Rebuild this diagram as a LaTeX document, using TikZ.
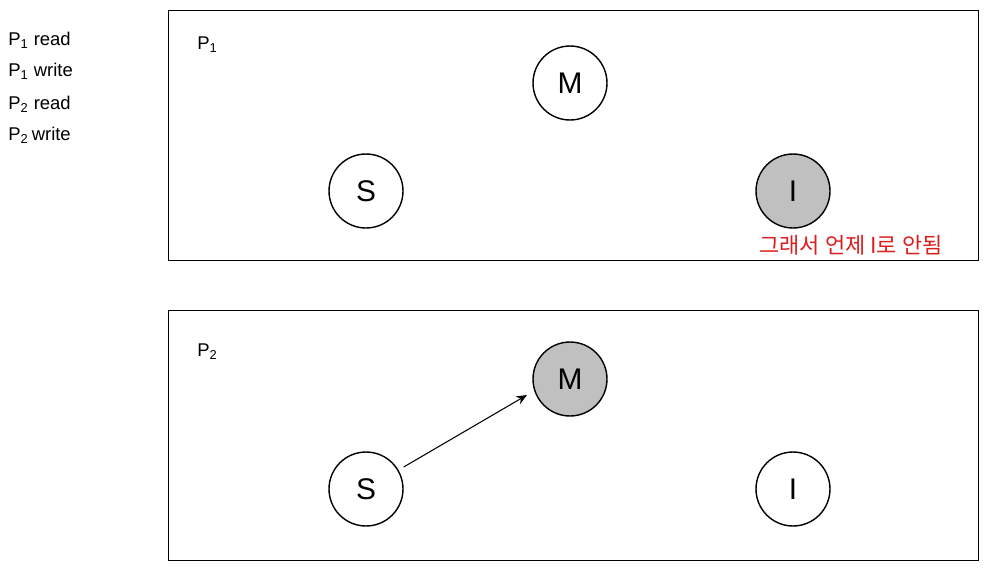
\documentclass[tikz,border=0pt]{standalone}
\usepackage{fontspec}
\setmainfont{Liberation Sans}
\newfontfamily\krfont{Noto Sans CJK KR}
\usetikzlibrary{arrows.meta}
\definecolor{stategray}{RGB}{192,192,192}
\definecolor{penred}{RGB}{220,30,30}
\begin{document}
\begin{tikzpicture}[x=0.02cm, y=-0.02cm,
    state/.style={draw, circle, thick, fill=white, minimum size=1.48cm, inner sep=0pt, font=\fontsize{17}{20}\selectfont},
    proc/.style={draw, thick, minimum width=16.2cm, minimum height=5cm, anchor=north west},
    side/.style={anchor=west, inner sep=0pt, font=\fontsize{10.5}{12}\selectfont}]
    \useasboundingbox (0,0) rectangle (1002,569);
    % Boxes
    \node (box1) [proc] at (168,10) {};
    \node (box2) [proc] at (168,310) {};
    \node (lab1) [side] at (197,45) {P\textsubscript{1}};
    \node (lab2) [side] at (197,352) {P\textsubscript{2}};
    % Operations
    \node (op1) [side] at (8,40) {P\textsubscript{1} read};
    \node (op2) [side] at (8,71) {P\textsubscript{1} write};
    \node (op3) [side] at (8,104) {P\textsubscript{2} read};
    \node (op4) [side] at (8,135) {P\textsubscript{2}\,write};
    % States of P1
    \node (m1) [state] at (570,83) {M};
    \node (s1) [state] at (366,191) {S};
    \node (i1) [state, fill=stategray] at (793,191) {I};
    \node (note) [text=penred, inner sep=0pt, font=\krfont\fontsize{12.5}{14}\selectfont] at (851,245) {그래서 언제 I로 안됨};
    % States of P2
    \node (m2) [state, fill=stategray] at (570,379) {M};
    \node (s2) [state] at (366,489) {S};
    \node (i2) [state] at (793,489) {I};
    \coordinate (tip) at (527,395);
    % Connectors
    \draw [-{Stealth[length=6pt, width=5pt]}, semithick, shorten <=0.12cm] (s2) -- (tip);
\end{tikzpicture}
\end{document}
